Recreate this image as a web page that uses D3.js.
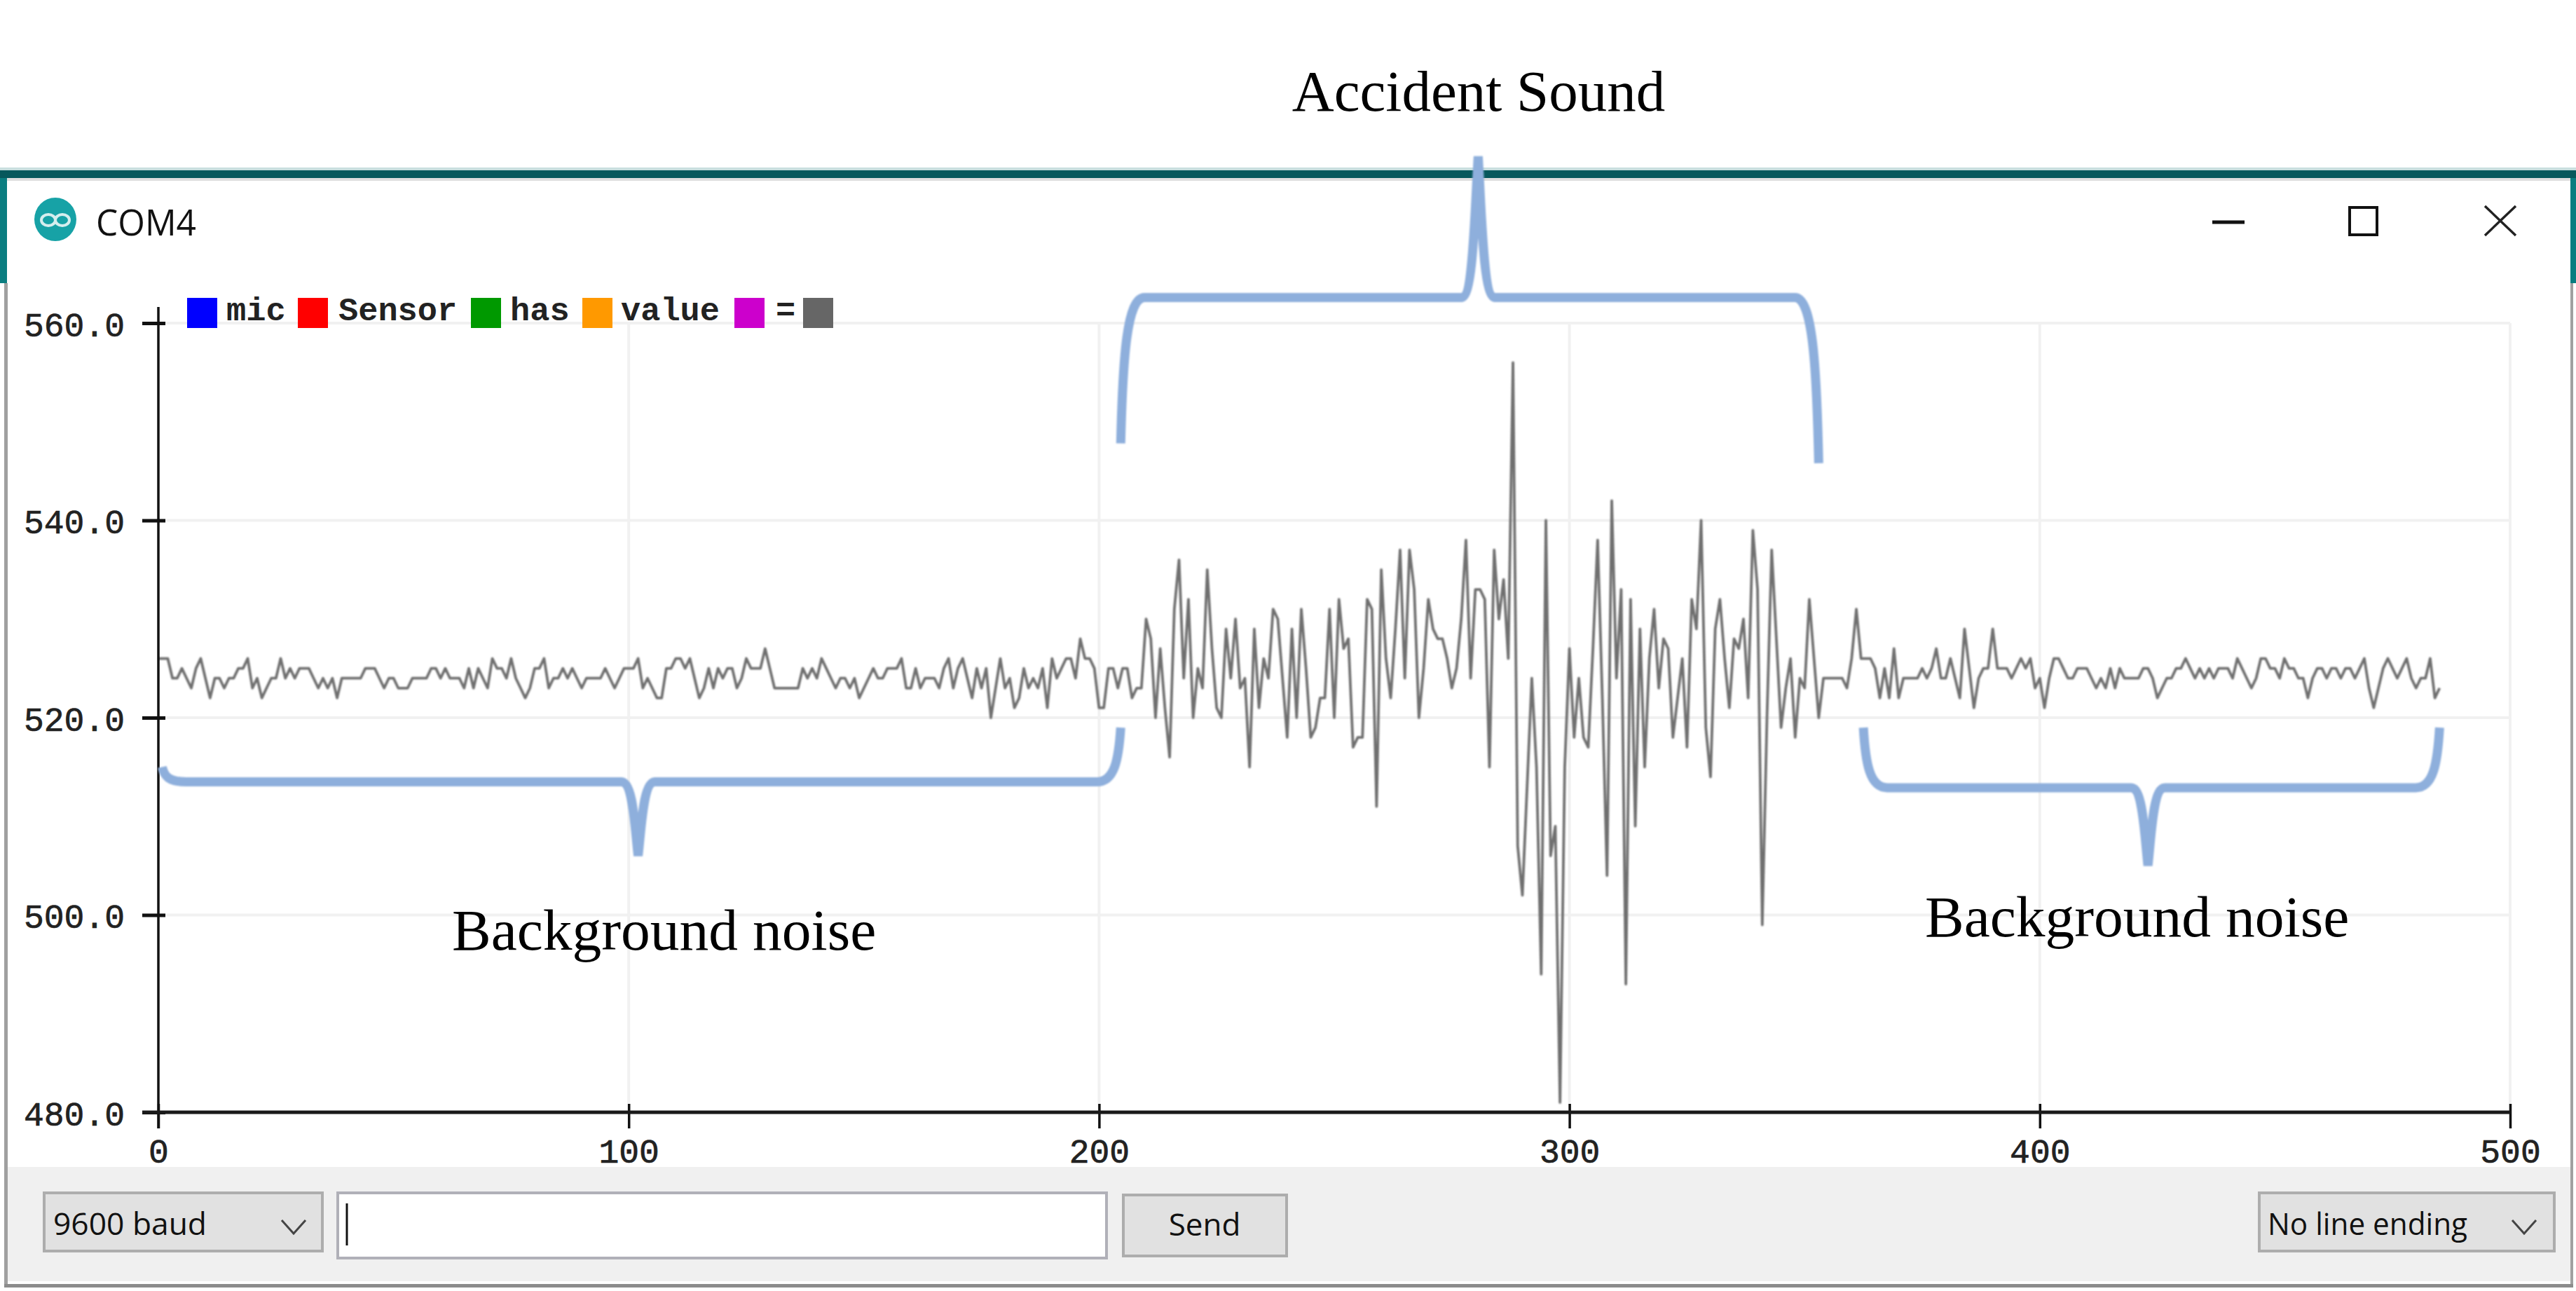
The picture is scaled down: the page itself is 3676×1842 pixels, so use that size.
<!DOCTYPE html>
<html>
<head>
<meta charset="utf-8">
<script src="https://cdn.jsdelivr.net/npm/d3@7"></script>
<style>
html,body{margin:0;padding:0;background:#fff;overflow:hidden;}
svg{display:block;}
</style>
</head>
<body>
<svg id="screen" width="3676" height="1842"></svg>
<script>
// serial plotter reading, one value per sample
var micValues=[
526,526,526,524,524,525,524,523,525,526,
524,522,524,524,523,524,524,525,525,526,
523,524,522,523,524,524,526,524,525,524,
525,525,525,524,523,524,523,524,522,524,
524,524,524,524,525,525,525,524,523,524,
524,523,523,523,524,524,524,524,525,525,
524,525,524,524,524,523,525,523,525,524,
523,526,525,525,524,526,524,523,522,523,
525,525,526,523,524,524,525,524,525,524,
523,524,524,524,524,525,524,523,524,525,
525,525,526,523,524,523,522,522,525,525,
526,526,525,526,524,522,523,525,523,525,
524,525,525,523,524,526,525,525,525,527,
525,523,523,523,523,523,523,525,524,525,
524,526,525,524,523,524,524,523,524,522,
523,524,525,524,524,525,525,525,526,523,
523,525,523,524,524,524,523,525,526,523,
525,526,524,522,525,523,525,520,523,526,
523,524,521,522,525,523,524,523,525,521,
526,524,525,526,526,524,528,526,526,525,
521,521,525,525,523,525,525,522,523,523,
530,528,520,527,521,516,531,536,524,532,
520,525,523,535,527,521,520,529,524,530,
523,524,515,529,521,526,524,531,530,524,
518,529,520,531,525,518,519,522,522,531,
520,532,527,528,517,518,518,532,531,511,
535,526,522,529,537,524,537,533,520,525,
532,529,528,528,526,523,525,530,538,524,
533,533,532,515,537,530,534,526,556,507,
502,513,524,515,494,540,506,509,481,515,
527,518,524,518,517,527,538,522,504,542,
524,533,493,532,509,529,515,526,531,523,
528,527,518,522,526,517,532,529,540,519,
514,529,532,526,521,528,527,530,522,539,
533,499,520,537,528,519,523,526,518,524,
523,532,526,520,524,524,524,524,524,523,
526,531,526,526,526,525,522,525,522,527,
522,524,524,524,524,525,524,525,527,524,
524,526,524,522,529,525,521,524,525,525,
529,525,525,525,524,525,526,525,526,523,
524,521,524,526,526,525,524,524,525,525,
525,524,523,524,523,525,523,525,524,524,
524,524,525,525,524,522,523,524,524,525,
525,526,525,524,525,524,525,524,525,525,
525,524,526,525,524,523,524,526,526,525,
525,524,526,525,525,524,524,522,524,525,
525,524,525,525,524,525,525,524,525,526,
523,521,523,525,526,525,524,525,526,524,
523,524,524,526,522,523];
var xTicks=[0,100,200,300,400,500];
var yTicks=[480,500,520,540,560];
var legendNames=["mic","Sensor","has","value","=",""];
var legendColors=["#0000ff","#ff0000","#009900","#ff9900","#cc00cc","#666666"];
var legendSwatchX=[267,425,672,831,1048,1146];
var legendTextX=[323,483,728,886,1107];

// brace annotations, in chart units
var braceFrom=[204.6,0.8,362.5];
var braceTo=[353,204.6,485];
var braceTip=[280.6,102,423];
var braceLevel=[562.6,513.5,512.9];
var braceEndLeft=[547.8,515,519];
var braceEndRight=[545.8,519,519];
var bracePeak=[576.9,506,505];

var svg=d3.select("#screen");
var x=d3.scaleLinear().domain([0,500]).range([226,3582]);
var y=d3.scaleLinear().domain([480,560]).range([1587,461]);

var mono="'Liberation Mono',monospace";
var ui="'Open Sans',sans-serif";
var serif="'Liberation Serif',serif";

//the original is a scaled up screenshot, so it is slightly soft
var soft=svg.append("defs").append("filter").attr("id","soft");
soft.append("feGaussianBlur").attr("stdDeviation",0.9);

//window frame
svg.append("rect").attr("x",0).attr("y",239).attr("width",3676).attr("height",4).attr("fill","#c9dfdf");
svg.append("rect").attr("x",0).attr("y",243).attr("width",3676).attr("height",11).attr("fill","#07585c");
svg.append("rect").attr("x",0).attr("y",254).attr("width",3676).attr("height",4).attr("fill","#dedede");
svg.append("rect").attr("x",0).attr("y",254).attr("width",10).attr("height",150).attr("fill","#0a7d80");
svg.append("rect").attr("x",3668).attr("y",254).attr("width",8).attr("height",150).attr("fill","#0a7d80");
svg.append("rect").attr("x",6).attr("y",404).attr("width",5).attr("height",1430).attr("fill","#a0a0a0");
svg.append("rect").attr("x",3668).attr("y",404).attr("width",4).attr("height",1430).attr("fill","#a0a0a0");
svg.append("rect").attr("x",6).attr("y",1832).attr("width",3666).attr("height",5).attr("fill","#8c8c8c");
svg.append("rect").attr("x",11).attr("y",1665).attr("width",3657).attr("height",163).attr("fill","#f0f0f0");

//title bar
svg.append("ellipse").attr("cx",79).attr("cy",313).attr("rx",30).attr("ry",31).attr("fill","#17a2a6");
svg.append("ellipse").attr("cx",69).attr("cy",314).attr("rx",10).attr("ry",8).attr("fill","none").attr("stroke","#d5eeee").attr("stroke-width",4);
svg.append("ellipse").attr("cx",89).attr("cy",314).attr("rx",10).attr("ry",8).attr("fill","none").attr("stroke","#d5eeee").attr("stroke-width",4);
svg.append("text").attr("x",137).attr("y",336).attr("font-family",ui).attr("font-size",52).attr("textLength",143).attr("lengthAdjust","spacingAndGlyphs").attr("fill","#111").text("COM4");
svg.append("line").attr("x1",3157).attr("x2",3203).attr("y1",317).attr("y2",317).attr("stroke","#111").attr("stroke-width",5);
svg.append("rect").attr("x",3353).attr("y",296).attr("width",39).attr("height",39).attr("fill","none").attr("stroke","#111").attr("stroke-width",4);
svg.append("path").attr("d","M3546,294L3590,336M3590,294L3546,336").attr("fill","none").attr("stroke","#222").attr("stroke-width",3.5);

//grid
svg.append("g").selectAll("line").data(yTicks.slice(1)).enter().append("line")
    .attr("x1",x(0)).attr("x2",x(500))
    .attr("y1",function(d){return y(d);}).attr("y2",function(d){return y(d);})
    .attr("stroke","#f1f1f1").attr("stroke-width",4);
svg.append("g").selectAll("line").data(xTicks.slice(1)).enter().append("line")
    .attr("x1",function(d){return x(d);}).attr("x2",function(d){return x(d);})
    .attr("y1",y(560)).attr("y2",y(480))
    .attr("stroke","#f1f1f1").attr("stroke-width",4);

//series
var line=d3.line().x(function(d,i){return x(i);}).y(function(d){return y(d);});
svg.append("path").datum(micValues).attr("d",line).attr("fill","none")
    .attr("stroke","#707070").attr("stroke-width",3.8).attr("stroke-linejoin","round")
    .attr("filter","url(#soft)");

//axes
var yAxis=d3.axisLeft(y).tickValues(yTicks).tickFormat(d3.format(".1f")).tickSize(23).tickSizeOuter(0).tickPadding(25);
var xAxis=d3.axisBottom(x).tickValues(xTicks).tickSize(23).tickSizeOuter(0).tickPadding(8);
var gy=svg.append("g").attr("transform","translate("+x(0)+",0)").call(yAxis);
var gx=svg.append("g").attr("transform","translate(0,"+y(480)+")").call(xAxis);
gy.select(".domain").remove();
gx.select(".domain").remove();
svg.append("line").attr("x1",x(0)).attr("x2",x(0)).attr("y1",438).attr("y2",y(480)+23).attr("stroke","#111").attr("stroke-width",3.5);
svg.append("line").attr("x1",x(0)-23).attr("x2",x(500)).attr("y1",y(480)).attr("y2",y(480)).attr("stroke","#1a1a1a").attr("stroke-width",5);
gy.selectAll(".tick line").attr("x1",-23).attr("x2",10).attr("stroke","#111").attr("stroke-width",5);
gx.selectAll(".tick line").attr("y1",-12).attr("y2",23).attr("stroke","#111").attr("stroke-width",3.5);
gy.selectAll("text").attr("font-family",mono).attr("font-size",48).attr("fill","#222").attr("stroke","#222").attr("stroke-width",0.7).attr("dy","0.38em").attr("x",-48);
gx.selectAll("text").attr("font-family",mono).attr("font-size",48).attr("fill","#222").attr("stroke","#222").attr("stroke-width",0.7).attr("dy","0.85em");

//legend
svg.append("g").selectAll("rect").data(legendColors).enter().append("rect")
    .attr("x",function(d,i){return legendSwatchX[i];}).attr("y",425)
    .attr("width",43).attr("height",43).attr("fill",function(d){return d;});
svg.append("g").selectAll("text").data(legendNames.slice(0,5)).enter().append("text")
    .attr("x",function(d,i){return legendTextX[i];}).attr("y",457)
    .attr("font-family",mono).attr("font-weight","bold").attr("font-size",47).attr("fill","#222")
    .text(function(d){return d;});

//braces
function bracePath(i){
    var x0=x(braceFrom[i]),x1=x(braceTo[i]),t=x(braceTip[i]);
    var l=y(braceLevel[i]),a=y(braceEndLeft[i]),b=y(braceEndRight[i]),p=y(bracePeak[i]);
    var r=34;
    return "M"+x0+","+a
        +"C"+(x0+3)+","+(a+(l-a)*0.6)+" "+(x0+9)+","+l+" "+(x0+r)+","+l
        +"L"+(t-24)+","+l
        +"C"+(t-7)+","+l+" "+(t-5)+","+(l+(p-l)*0.6)+" "+t+","+p
        +"C"+(t+5)+","+(l+(p-l)*0.6)+" "+(t+7)+","+l+" "+(t+24)+","+l
        +"L"+(x1-r)+","+l
        +"C"+(x1-9)+","+l+" "+(x1-3)+","+(b+(l-b)*0.6)+" "+x1+","+b;
}
svg.append("g").selectAll("path").data(braceFrom).enter().append("path")
    .attr("d",function(d,i){return bracePath(i);})
    .attr("fill","none").attr("stroke","#8eafdc").attr("stroke-width",13)
    .attr("filter","url(#soft)");

//captions
svg.append("text").attr("x",2110).attr("y",158).attr("text-anchor","middle").attr("font-family",serif).attr("font-size",83).attr("fill","#000").text("Accident Sound");
svg.append("text").attr("x",645).attr("y",1355).attr("font-family",serif).attr("font-size",83.5).attr("fill","#000").text("Background noise");
svg.append("text").attr("x",2747).attr("y",1336).attr("font-family",serif).attr("font-size",83.5).attr("fill","#000").text("Background noise");

//bottom controls
function combo(x0,x1,label,tx,tw,chev){
    svg.append("rect").attr("x",x0).attr("y",1702).attr("width",x1-x0).attr("height",83).attr("fill","#e1e1e1").attr("stroke","#adadad").attr("stroke-width",4);
    svg.append("text").attr("x",tx).attr("y",1762).attr("font-family",ui).attr("font-size",44).attr("textLength",tw).attr("lengthAdjust","spacingAndGlyphs").attr("fill","#111").text(label);
    svg.append("path").attr("d","M"+(chev-17)+",1741L"+chev+",1760L"+(chev+17)+",1741").attr("fill","none").attr("stroke","#444").attr("stroke-width",3);
}
combo(63,460,"9600 baud",76,219,419);
combo(3224,3645,"No line ending",3236,285,3602);
svg.append("rect").attr("x",482).attr("y",1702).attr("width",1097).attr("height",93).attr("fill","#fff").attr("stroke","#b0b0b8").attr("stroke-width",4);
svg.append("line").attr("x1",495).attr("x2",495).attr("y1",1717).attr("y2",1777).attr("stroke","#111").attr("stroke-width",3);
svg.append("rect").attr("x",1603).attr("y",1705).attr("width",233).attr("height",87).attr("fill","#e1e1e1").attr("stroke","#adadad").attr("stroke-width",4);
svg.append("text").attr("x",1719).attr("y",1763).attr("text-anchor","middle").attr("font-family",ui).attr("font-size",44).attr("fill","#111").text("Send");
</script>
</body>
</html>
